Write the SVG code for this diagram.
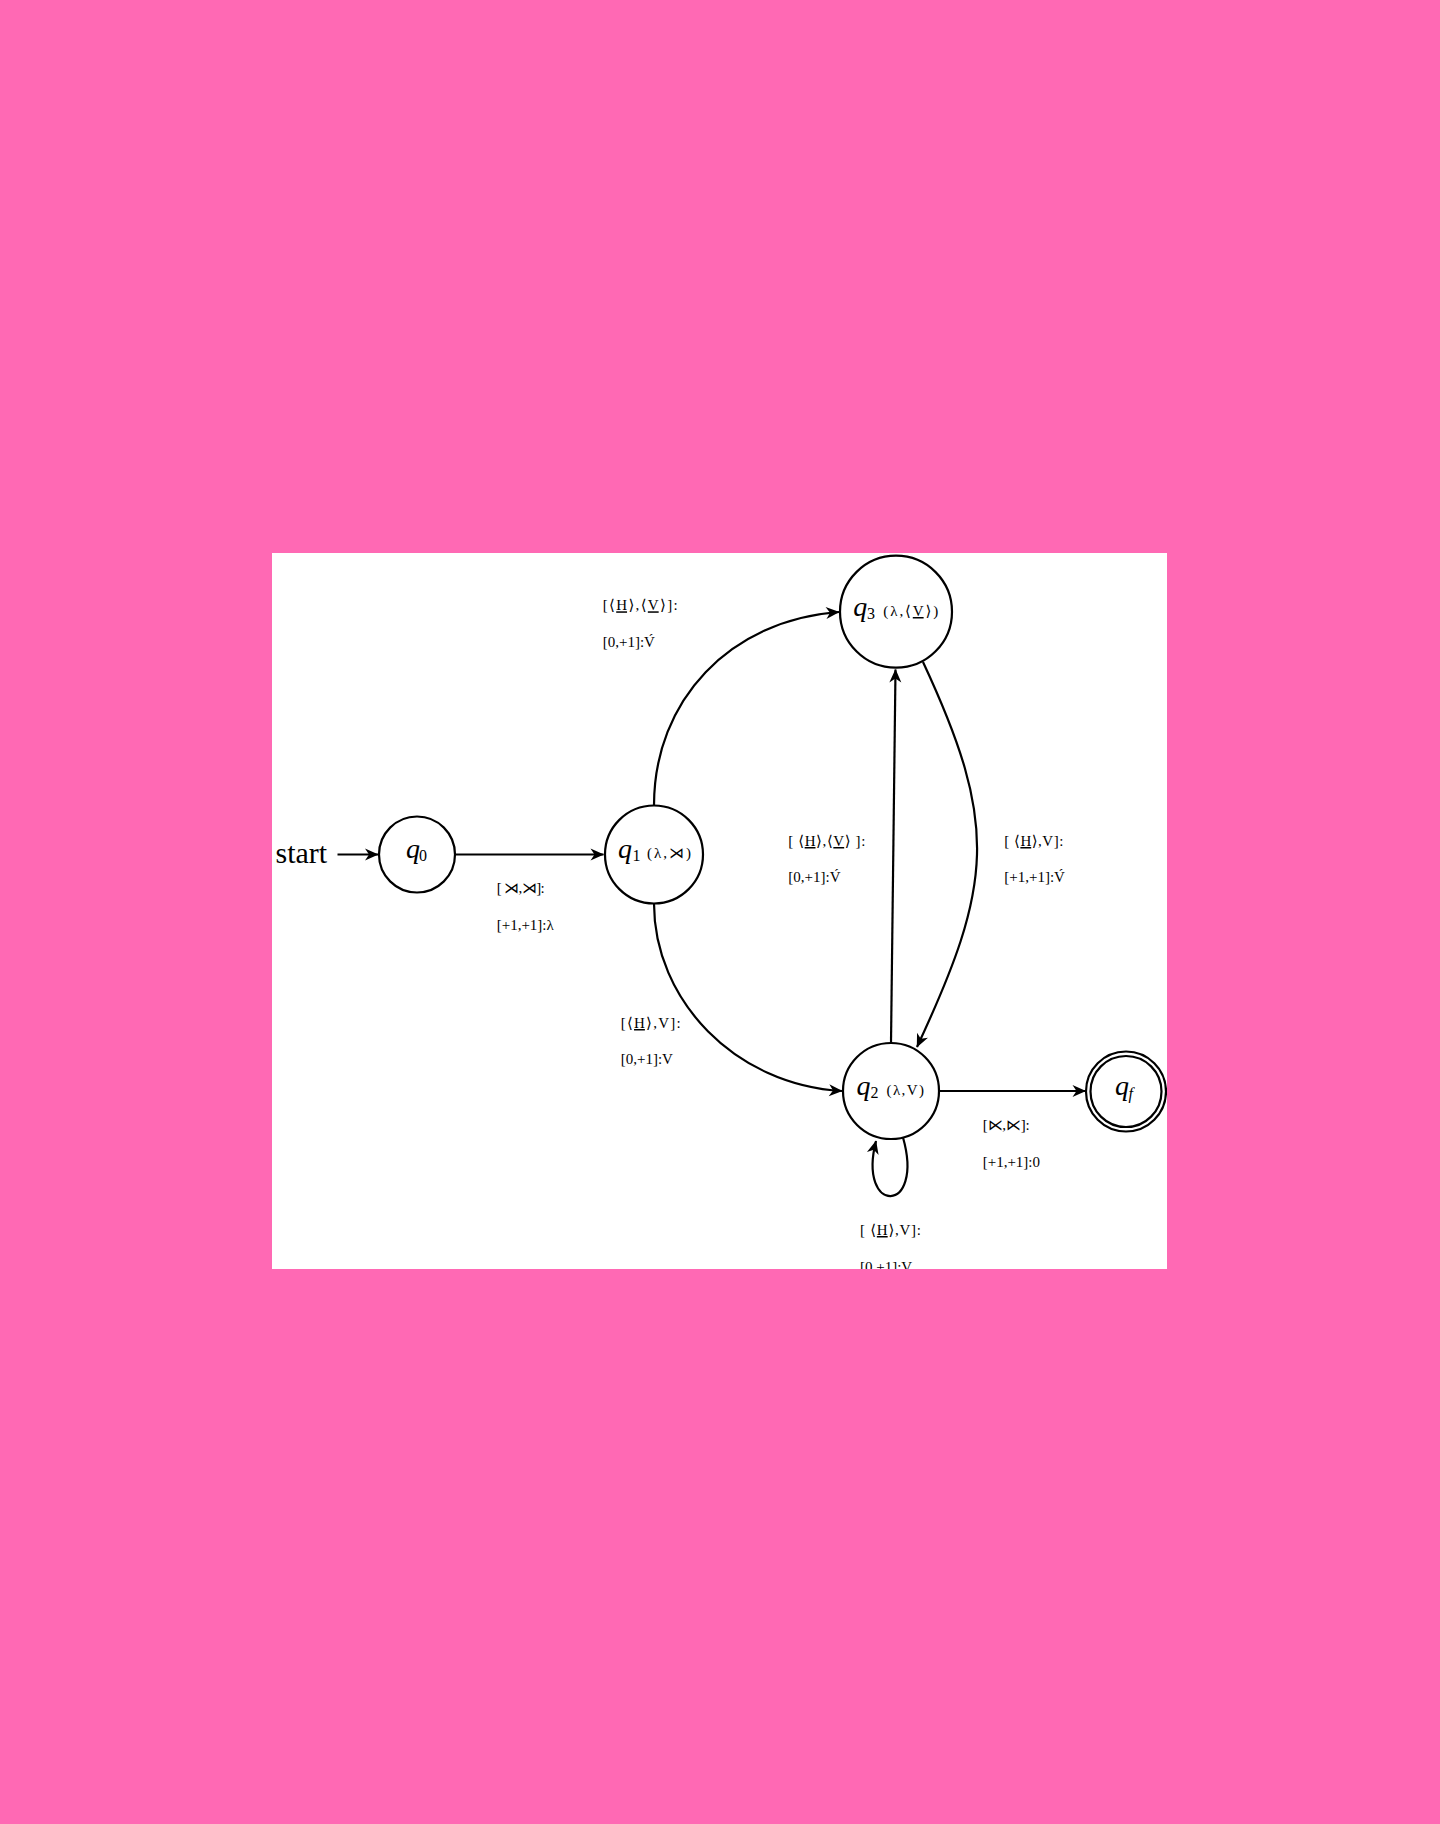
<svg xmlns="http://www.w3.org/2000/svg" width="1440" height="1824" viewBox="0 0 1440 1824">
<style>
  text { font-family: "Liberation Serif", "DejaVu Serif", serif; fill: #000; }
  .lbl { font-size: 15px; }
  .mi { font-size: 28px; font-style: italic; }
  .sub { font-size: 16px; }
  .subi { font-size: 16px; font-style: italic; }
  .ann { font-size: 15px; }
  .start { font-size: 30px; }
  .node { fill: #fff; stroke: #000; stroke-width: 2.2; }
  .edge { fill: none; stroke: #000; stroke-width: 2.2; marker-end: url(#arr); }
  .u { text-decoration: underline; }
</style>
<defs>
  <marker id="arr" markerUnits="userSpaceOnUse" viewBox="-14 -7 15 14" refX="0" refY="0" markerWidth="15" markerHeight="14" orient="auto">
    <path d="M0.5,0 L-13,-6 L-9,0 L-13,6 Z" fill="#000"/>
  </marker>
  <clipPath id="panel">
    <rect x="272" y="553" width="895" height="716"/>
  </clipPath>
</defs>
<rect x="0" y="0" width="1440" height="1824" fill="#FF69B4"/>
<rect x="272" y="553" width="895" height="716" fill="#fff"/>
<g clip-path="url(#panel)">
  <g id="connectors">
    <path class="edge" d="M337.5,854.5 L378,854.5"/>
    <path class="edge" d="M455.5,854.5 L603.5,854.5"/>
    <path class="edge" d="M654,805.5 C654,700 730,620 839,612"/>
    <path class="edge" d="M654,903.5 C654,1000 735,1085 842,1091"/>
    <path class="edge" d="M891,1043 L895.5,669.5"/>
    <path class="edge" d="M923,662 C999,825 993,884 917,1047"/>
    <path class="edge" d="M939.5,1091 L1085.5,1091"/>
    <path class="edge" d="M903,1137.5 C925,1215 857,1215 876,1141"/>
  </g>
  <g id="start">
    <text class="start" x="275.5" y="863">start</text>
  </g>
  <g id="q0">
    <circle class="node" cx="417" cy="854.5" r="38"/>
    <text class="mi" x="406" y="858">q</text>
    <text class="sub" x="419" y="861">0</text>
  </g>
  <g id="q1">
    <circle class="node" cx="654" cy="854.5" r="49"/>
    <text class="mi" x="618" y="858">q</text>
    <text class="sub" x="632.5" y="861">1</text>
    <text class="ann" x="647" y="858" textLength="44" lengthAdjust="spacing">(λ,⋊)</text>
  </g>
  <g id="q3">
    <circle class="node" cx="896" cy="611.7" r="56"/>
    <text class="mi" x="853.3" y="616">q</text>
    <text class="sub" x="867" y="619">3</text>
    <text class="ann" x="883.3" y="616" textLength="55" lengthAdjust="spacing">(λ,⟨<tspan class="u">V</tspan>⟩)</text>
  </g>
  <g id="q2">
    <circle class="node" cx="891" cy="1091" r="48"/>
    <text class="mi" x="856.5" y="1095">q</text>
    <text class="sub" x="870.5" y="1098">2</text>
    <text class="ann" x="886.5" y="1095" textLength="37.5" lengthAdjust="spacing">(λ,V)</text>
  </g>
  <g id="qf">
    <circle class="node" cx="1126" cy="1091.5" r="40"/>
    <circle class="node" cx="1126" cy="1091.5" r="35.5"/>
    <text class="mi" x="1115" y="1095">q</text>
    <text class="subi" x="1128.5" y="1099">f</text>
  </g>
  <g id="labels">
    <text class="lbl" x="496.7" y="893" textLength="48" lengthAdjust="spacing">[ ⋊,⋊]:</text>
    <text class="lbl" x="496.7" y="930">[+1,+1]:λ</text>
    <text class="lbl" x="602.7" y="610.3" textLength="75" lengthAdjust="spacing">[⟨<tspan class="u">H</tspan>⟩,⟨<tspan class="u">V</tspan>⟩]:</text>
    <text class="lbl" x="602.7" y="647">[0,+1]:V́</text>
    <text class="lbl" x="788.3" y="846" textLength="77" lengthAdjust="spacing">[ ⟨<tspan class="u">H</tspan>⟩,⟨<tspan class="u">V</tspan>⟩ ]:</text>
    <text class="lbl" x="788.3" y="882">[0,+1]:V́</text>
    <text class="lbl" x="1004.3" y="846" textLength="59" lengthAdjust="spacing">[ ⟨<tspan class="u">H</tspan>⟩,V]:</text>
    <text class="lbl" x="1004.3" y="882">[+1,+1]:V́</text>
    <text class="lbl" x="620.7" y="1028" textLength="60" lengthAdjust="spacing">[⟨<tspan class="u">H</tspan>⟩,V]:</text>
    <text class="lbl" x="620.7" y="1064">[0,+1]:V</text>
    <text class="lbl" x="982.7" y="1130" textLength="47" lengthAdjust="spacing">[⋉,⋉]:</text>
    <text class="lbl" x="982.7" y="1167">[+1,+1]:0</text>
    <text class="lbl" x="860" y="1235" textLength="61" lengthAdjust="spacing">[ ⟨<tspan class="u">H</tspan>⟩,V]:</text>
    <text class="lbl" x="860" y="1271.5">[0,+1]:V</text>
  </g>
</g>
</svg>
